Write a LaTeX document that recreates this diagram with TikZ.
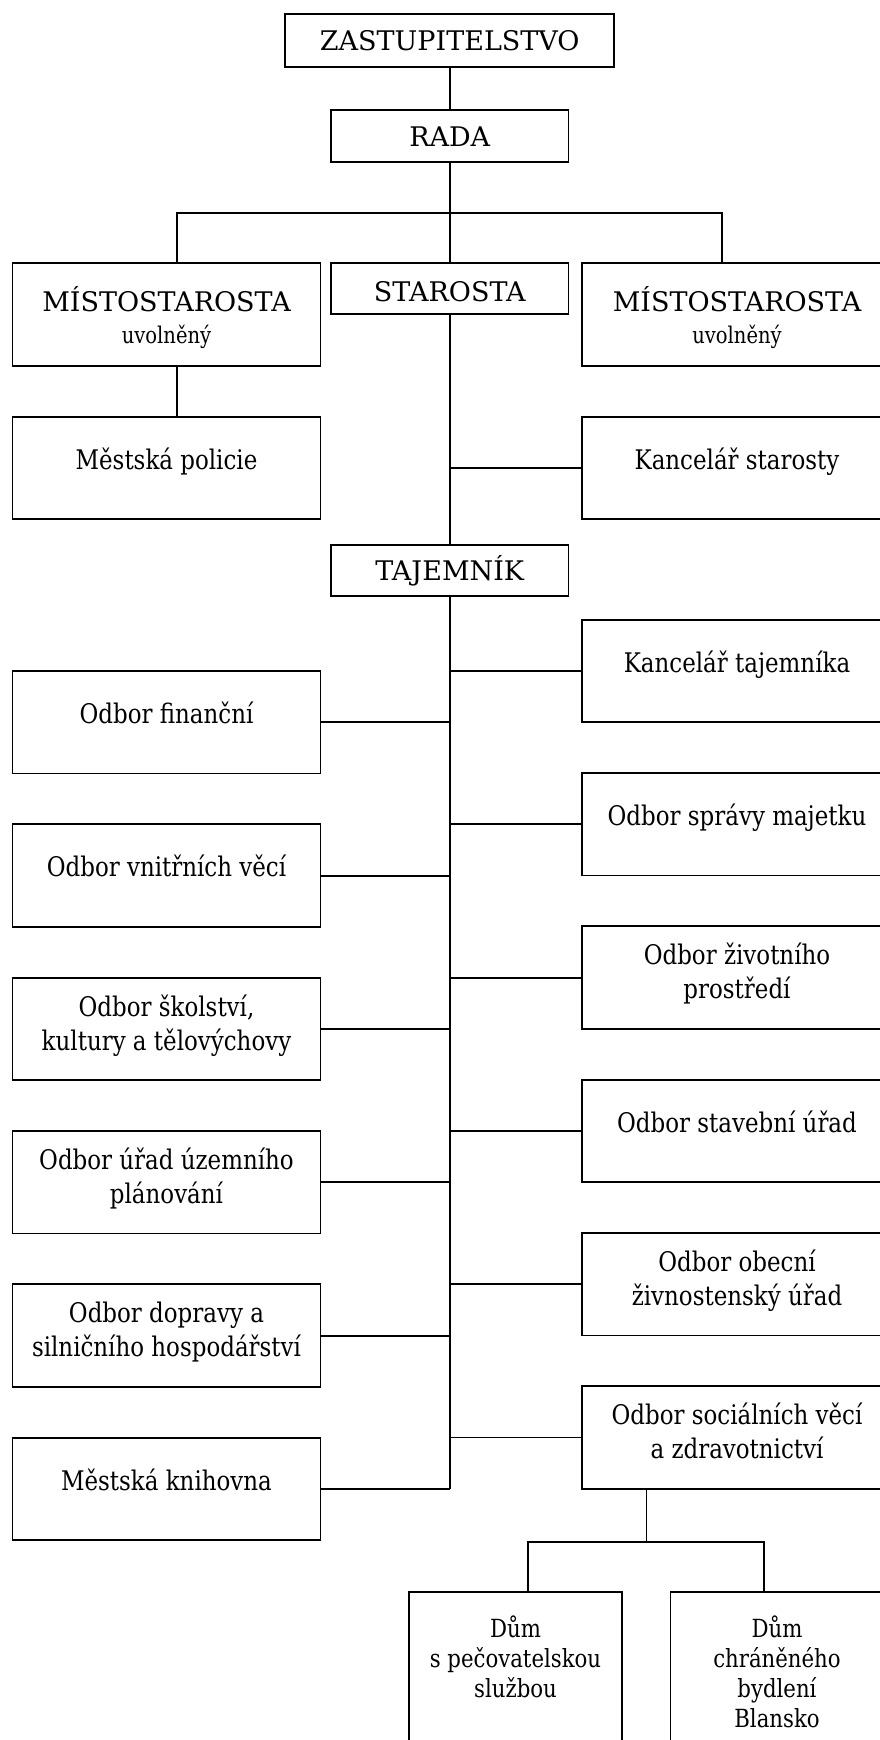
\documentclass[tikz,border=0pt]{standalone}
\usepackage{fontspec}
\setmainfont{DejaVu Serif}
\newfontfamily\condfont[FakeStretch=0.85]{DejaVu Serif}
\begin{document}
\begin{tikzpicture}[x=1pt,y=-1pt,
  bx/.style 2 args={draw=black, line width=1.8pt, inner sep=0pt, minimum width=#1pt, minimum height=#2pt},
  ln/.style={line width=1.8pt, draw=black},
  capt/.style={inner sep=0pt, anchor=base, font=\fontsize{27}{34}\selectfont},
  lowt/.style={inner sep=0pt, anchor=base, align=center, font=\condfont\fontsize{27}{34}\selectfont},
  smallt/.style={inner sep=0pt, anchor=base, font=\condfont\fontsize{23}{28}\selectfont},
  dumt/.style={inner sep=0pt, anchor=base, align=center, font=\condfont\fontsize{25}{30}\selectfont}]
\clip (0,0) rectangle (880,1740);
\fill[white] (0,0) rectangle (880,1740);

% top column
\node[bx={329}{53}] (zas) at (449.75,40.5) {};
\node[capt] (zast) at (449.75,50) {ZASTUPITELSTVO};
\node[bx={237.5}{52}] (rada) at (449.75,136) {};
\node[capt] (radat) at (449.75,146.7) {RADA};
\node[bx={237.5}{51}] (star) at (449.75,288.5) {};
\node[capt] (start) at (449.75,301) {STAROSTA};
\node[bx={308}{103}] (mL) at (166.5,314.5) {};
\node[capt] (mLt) at (166.5,311) {MÍSTOSTAROSTA};
\node[smallt] (mLu) at (166.5,343) {uvolněný};
\node[bx={310}{103}] (mR) at (737,314.5) {};
\node[capt] (mRt) at (737,311) {MÍSTOSTAROSTA};
\node[smallt] (mRu) at (737,343) {uvolněný};
\node[bx={308}{102.5}] (pol) at (166.5,468) {};
\node[lowt] (polt) at (166.5,469) {Městská policie};
\node[bx={310}{102.5}] (ks) at (737,468) {};
\node[lowt] (kst) at (737,469) {Kancelář starosty};
\node[bx={237.5}{51}] (taj) at (449.75,570.5) {};
\node[capt] (tajt) at (449.75,580.7) {TAJEMNÍK};

% right column (base anchor = baseline of the last line)
\node[bx={310}{102.5}] (r0) at (737,671) {};
\node[lowt] (r0t) at (737,672) {Kancelář tajemníka};
\node[bx={310}{102.5}] (r1) at (737,824.3) {};
\node[lowt] (r1t) at (737,825.3) {Odbor správy majetku};
\node[bx={310}{102.5}] (r2) at (737,977.6) {};
\node[lowt] (r2t) at (737,998.6) {Odbor životního\\prostředí};
\node[bx={310}{102.5}] (r3) at (737,1131) {};
\node[lowt] (r3t) at (737,1132) {Odbor stavební úřad};
\node[bx={310}{102.5}] (r4) at (737,1284.2) {};
\node[lowt] (r4t) at (737,1305.2) {Odbor obecní\\živnostenský úřad};
\node[bx={310}{102.5}] (r5) at (737,1437.5) {};
\node[lowt] (r5t) at (737,1458.5) {Odbor sociálních věcí\\a zdravotnictví};

% left column
\node[bx={308}{102.5}] (l0) at (166.5,722.3) {};
\node[lowt] (l0t) at (166.5,723.3) {Odbor finanční};
\node[bx={308}{102.5}] (l1) at (166.5,875.6) {};
\node[lowt] (l1t) at (166.5,876.6) {Odbor vnitřních věcí};
\node[bx={308}{102.5}] (l2) at (166.5,1029) {};
\node[lowt] (l2t) at (166.5,1050) {Odbor školství,\\kultury a tělovýchovy};
\node[bx={308}{102.5}] (l3) at (166.5,1182.3) {};
\node[lowt] (l3t) at (166.5,1203.3) {Odbor úřad územního\\plánování};
\node[bx={308}{102.5}] (l4) at (166.5,1335.6) {};
\node[lowt] (l4t) at (166.5,1356.6) {Odbor dopravy a\\silničního hospodářství};
\node[bx={308}{102.5}] (l5) at (166.5,1489) {};
\node[lowt] (l5t) at (166.5,1490) {Městská knihovna};

% houses
\node[bx={213}{190}] (d1) at (515.5,1687) {};
\node[dumt] (d1t) at (515.5,1697) {Dům\\s pečovatelskou\\službou};
\node[bx={213}{190}] (d2) at (777,1687) {};
\node[dumt] (d2t) at (777,1727) {Dům\\chráněného\\bydlení\\Blansko};

% connectors
\coordinate (bL) at (177,213);
\coordinate (bR) at (722,213);
\coordinate (sb) at (646.5,1542);
\coordinate (dL) at (528,1542);
\coordinate (dR) at (764,1542);
\draw[ln] (zas.south) -- (rada.north);
\draw[ln] (rada.south) -- (star.north);
\draw[ln] (bL |- mL.north) -- (bL) -- (bR) -- (bR |- mR.north);
\draw[ln] (mL.south -| bL) -- (pol.north -| bL);
\draw[ln] (star.south) -- (taj.north);
\draw[ln] (taj.south) -- (taj.south |- l5.east);
\draw[ln] (ks.west) -- (ks.west -| taj.south);
\foreach \n in {r0,r1,r2,r3,r4,r5} \draw[ln] (\n.west) -- (\n.west -| taj.south);
\foreach \n in {l0,l1,l2,l3,l4,l5} \draw[ln] (\n.east) -- (\n.east -| taj.south);
\draw[ln] (r5.south -| sb) -- (sb);
\draw[ln] (dL |- d1.north) -- (dL) -- (dR) -- (dR |- d2.north);
\end{tikzpicture}
\end{document}
